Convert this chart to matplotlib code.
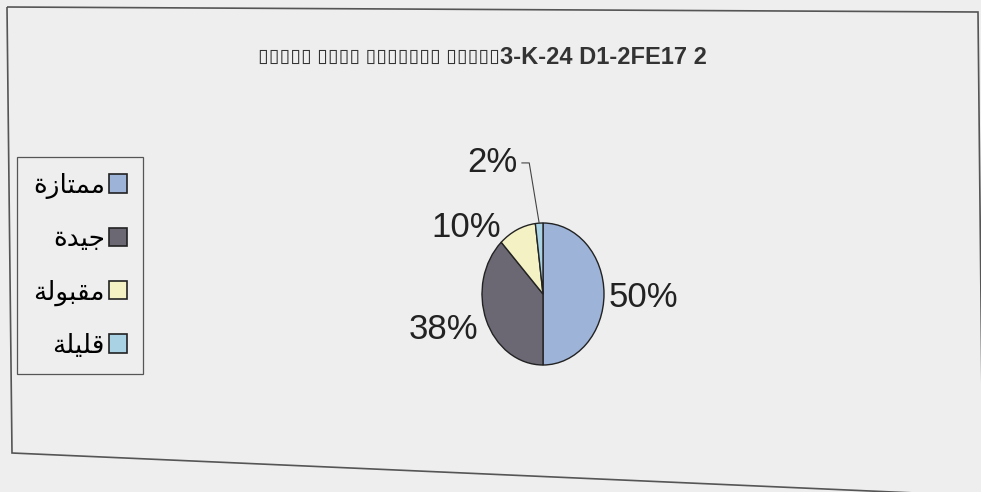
import matplotlib
matplotlib.use('Agg')
import matplotlib.pyplot as plt
from matplotlib.patches import Polygon
import numpy as np

plt.rcParams['font.family'] = ['Liberation Sans', 'DejaVu Sans']

# data
categories = ['ممتازة', 'جيدة', 'مقبولة', 'قليلة']
# same words, written in Arabic presentation forms (visual order) since matplotlib does no shaping
legend_labels = ['\uFE93\uFEAF\uFE8E\uFE98\uFEE4\uFEE3',
                 '\uFE93\uFEAA\uFEF4\uFE9F',
                 '\uFE94\uFEDF\uFEEE\uFE92\uFED8\uFEE3',
                 '\uFE94\uFEE0\uFEF4\uFEE0\uFED7']
values = [50, 38, 10, 2]
pct_labels = ['50%', '38%', '10%', '2%']
# the title did not render in the original either: a run of empty boxes then garbage
title_boxes = '\u25AF' * 5 + ' ' + '\u25AF' * 4 + ' ' + '\u25AF' * 7 + ' ' + '\u25AF' * 5
title_tail = '3-K-24 D1-2FE17 2'

colors = ['#9db3d8', '#6b6874', '#f4f2c4', '#a9d3e4']

W, H = 981, 492
fig = plt.figure(figsize=(W / 100, H / 100), dpi=100)
fig.patch.set_facecolor('#eeeeee')

# chart frame (photo is slightly skewed)
frame = Polygon([(7 / W, 1 - 7 / H), (978 / W, 1 - 12 / H), (983 / W, 1 - 496 / H), (12 / W, 1 - 453 / H)],
                closed=True, fill=False, edgecolor='#555555', linewidth=1.2,
                transform=fig.transFigure)
fig.add_artist(frame)

fig.text(500 / W, 1 - 57 / H, title_boxes, ha='right', va='center', fontsize=14,
         color='#333333')
fig.text(500 / W, 1 - 57 / H, title_tail, ha='left', va='center', fontsize=17,
         fontweight='bold', color='#333333')

# pie axes: 61 px per x unit, 71 px per y unit -> slightly tall ellipse
cx, cy = 543, 294
ax = fig.add_axes([(cx - 76.25) / W, 1 - (cy + 88.75) / H, 152.5 / W, 177.5 / H])
wedges, _ = ax.pie(values, colors=colors, startangle=90, counterclock=False,
                   wedgeprops=dict(edgecolor='#222222', linewidth=1.0))
ax.set_aspect('auto')
ax.set_xlim(-1.25, 1.25)
ax.set_ylim(-1.25, 1.25)

label_r = [1.65, 1.75, 1.15, 2.0]
label_ha = ['center', 'center', 'right', 'right']
label_dx = [0.0, 0.0, -0.2, -0.3]
label_dy = [-0.05, 0.15, -0.1, -0.15]
for w, lab, r, ha, dx, dy in zip(wedges, pct_labels, label_r, label_ha, label_dx, label_dy):
    ang = np.deg2rad((w.theta1 + w.theta2) / 2)
    x, y = r * np.cos(ang) + dx, r * np.sin(ang) + dy
    ax.text(x, y, lab, ha=ha, va='center', fontsize=25, color='#222222')
    if lab == '2%':
        ex, ey = np.cos(ang), np.sin(ang)
        ax.plot([x + 0.08, x + 0.2, ex], [y, y, ey], color='#444444', linewidth=0.8,
                clip_on=False)

handles = [plt.Rectangle((0, 0), 1, 1, facecolor=c, edgecolor='#222222', linewidth=1.2)
           for c in colors]
leg = fig.legend(handles, legend_labels, loc='upper left',
                 bbox_to_anchor=(17 / W, 1 - 157 / H), borderaxespad=0, markerfirst=False,
                 fontsize=19, handlelength=0.7, handleheight=0.7, handletextpad=0.15,
                 labelspacing=1.07, borderpad=0.6, fancybox=False, framealpha=1,
                 facecolor='#eeeeee', edgecolor='#555555')
leg.get_frame().set_linewidth(0.9)

fig.savefig('out.png', dpi=100, facecolor=fig.get_facecolor())
